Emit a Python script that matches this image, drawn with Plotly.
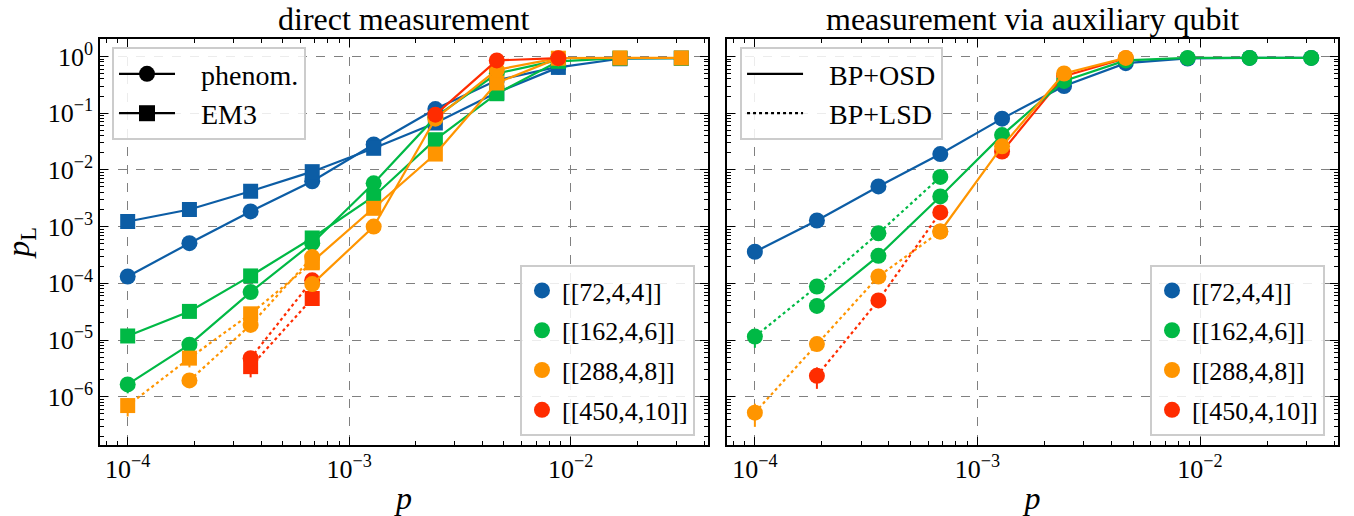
import plotly.graph_objects as go

# physical error rates (shared by both panels)
p_values = [1.00e-4, 1.90e-4, 3.59e-4, 6.81e-4, 1.29e-3, 2.45e-3, 4.64e-3, 8.80e-3, 1.67e-2, 3.16e-2]

code_labels = ["[[72,4,4]]", "[[162,4,6]]", "[[288,4,8]]", "[[450,4,10]]"]
code_colors = ["#0C5DA5", "#00B945", "#FF9500", "#FF2C00"]

# axis tick positions and labels
x_tick_vals = [1e-4, 1e-3, 1e-2]
x_tick_text = ["10<sup>\u22124</sup>", "10<sup>\u22123</sup>", "10<sup>\u22122</sup>"]
y_tick_vals = [1e0, 1e-1, 1e-2, 1e-3, 1e-4, 1e-5, 1e-6]
y_tick_text = ["10<sup>0</sup>", "10<sup>\u22121</sup>", "10<sup>\u22122</sup>", "10<sup>\u22123</sup>",
               "10<sup>\u22124</sup>", "10<sup>\u22125</sup>", "10<sup>\u22126</sup>"]

# ---- direct measurement: logical error rates ----
# (start index into p_values, values)
dm_blue_phen = (0, [1.32e-4, 5.1e-4, 1.85e-3, 6.3e-3, 2.8e-2, 1.18e-1, 3.8e-1, 6.6e-1])
dm_blue_em3 = (0, [1.23e-3, 2.0e-3, 4.2e-3, 9.3e-3, 2.4e-2, 6.7e-2, 2.3e-1, 6.4e-1, 9.1e-1, 9.3e-1])
dm_green_phen = (0, [1.65e-6, 8.3e-6, 7.0e-5, 5.1e-4, 5.8e-3, 8.5e-2, 5.0e-1, 8.6e-1])
dm_green_em3 = (0, [1.18e-5, 3.2e-5, 1.35e-4, 6.3e-4, 3.4e-3, 3.4e-2, 2.2e-1, 8.2e-1, 9.3e-1, 9.3e-1])
dm_orange_phen_lsd = (1, [1.94e-6, 1.85e-5, 2.9e-4])
dm_orange_em3_lsd = (0, [7.0e-7, 4.8e-6, 2.9e-5, 2.3e-4])
dm_orange_phen = (3, [9.7e-5, 1.0e-3, 8.0e-2, 5.8e-1, 9.3e-1])
dm_orange_em3 = (3, [2.4e-4, 2.1e-3, 1.9e-2, 3.4e-1, 9.3e-1, 9.4e-1, 9.4e-1])
dm_red_phen_lsd = (2, [4.8e-6, 1.13e-4])
dm_red_em3_lsd = (2, [3.4e-6, 5.4e-5])
dm_red_phen = (5, [9.4e-2, 8.5e-1, 9.3e-1])

# ---- measurement via auxiliary qubit ----
aq_blue_osd = (0, [3.6e-4, 1.28e-3, 5.1e-3, 1.9e-2, 8.0e-2, 3.0e-1, 7.6e-1, 9.2e-1, 9.4e-1, 9.4e-1])
aq_green_osd = (1, [4.0e-5, 3.05e-4, 3.4e-3, 4.1e-2, 3.7e-1, 8.5e-1, 9.4e-1, 9.4e-1, 9.4e-1])
aq_green_lsd = (0, [1.15e-5, 8.8e-5, 7.6e-4, 7.5e-3])
aq_orange_osd = (3, [8.2e-4, 2.6e-2, 5.0e-1, 9.4e-1])
aq_orange_lsd = (0, [5.25e-7, 8.5e-6, 1.32e-4, 8.2e-4])
aq_red_osd = (4, [2.1e-2, 4.5e-1, 9.3e-1])
aq_red_lsd = (1, [2.34e-6, 5.0e-5, 1.78e-3])

# statistical error bars (symmetric, absolute) on the rarest events
dm_orange_em3_lsd_err = [2.5e-7, 1.5e-6, 0, 0]
dm_green_phen_err = [5e-7, 0, 0, 0, 0, 0, 0, 0]
dm_red_em3_lsd_err = [1.2e-6, 0]
aq_green_lsd_err = [4.2e-6, 0, 0, 0]
aq_orange_lsd_err = [2.3e-7, 0, 0, 0]
aq_red_lsd_err = [9.6e-7, 0, 0]

FONT = "Liberation Serif"
FS_TICK = 26
FS_TITLE = 32
FS_LEG = 28
FS_CODES = 26
MS = 16
LW = 2.2

fig = go.Figure()


def add_series(series, color, symbol, dash, xaxis, yaxis, err=None):
    start, vals = series
    xs = p_values[start:start + len(vals)]
    tr = dict(
        x=xs, y=vals, mode="lines+markers",
        line=dict(color=color, width=LW, dash=dash),
        marker=dict(color=color, size=MS if symbol == "circle" else MS - 1,
                    symbol=symbol, line=dict(width=0)),
        xaxis=xaxis, yaxis=yaxis, showlegend=False, hoverinfo="x+y",
    )
    if err is not None:
        tr["error_y"] = dict(type="data", array=err, arrayminus=err,
                             color=color, thickness=2, width=0, visible=True)
    fig.add_trace(go.Scatter(**tr))


# left panel
add_series(dm_blue_phen, code_colors[0], "circle", "solid", "x", "y")
add_series(dm_blue_em3, code_colors[0], "square", "solid", "x", "y")
add_series(dm_green_phen, code_colors[1], "circle", "solid", "x", "y", dm_green_phen_err)
add_series(dm_green_em3, code_colors[1], "square", "solid", "x", "y")
add_series(dm_red_em3_lsd, code_colors[3], "square", "dot", "x", "y", dm_red_em3_lsd_err)
add_series(dm_red_phen_lsd, code_colors[3], "circle", "dot", "x", "y")
add_series(dm_orange_em3_lsd, code_colors[2], "square", "dot", "x", "y", dm_orange_em3_lsd_err)
add_series(dm_orange_phen_lsd, code_colors[2], "circle", "dot", "x", "y")
add_series(dm_orange_em3, code_colors[2], "square", "solid", "x", "y")
add_series(dm_orange_phen, code_colors[2], "circle", "solid", "x", "y")
add_series(dm_red_phen, code_colors[3], "circle", "solid", "x", "y")

# right panel
add_series(aq_blue_osd, code_colors[0], "circle", "solid", "x2", "y2")
add_series(aq_red_osd, code_colors[3], "circle", "solid", "x2", "y2")
add_series(aq_green_lsd, code_colors[1], "circle", "dot", "x2", "y2", aq_green_lsd_err)
add_series(aq_orange_lsd, code_colors[2], "circle", "dot", "x2", "y2", aq_orange_lsd_err)
add_series(aq_red_lsd, code_colors[3], "circle", "dot", "x2", "y2", aq_red_lsd_err)
add_series(aq_green_osd, code_colors[1], "circle", "solid", "x2", "y2")
add_series(aq_orange_osd, code_colors[2], "circle", "solid", "x2", "y2")

# legend entries (empty traces)
NB = "\u00a0\u00a0\u00a0"
for name, sym in [("phenom.", "circle"), ("EM3", "square")]:
    fig.add_trace(go.Scatter(x=[None], y=[None], mode="lines+markers", name=NB + name,
                             line=dict(color="black", width=LW),
                             marker=dict(color="black", size=MS, symbol=sym),
                             legend="legend", legendgroup=name))
for name, dash in [("BP+OSD", "solid"), ("BP+LSD", "dot")]:
    fig.add_trace(go.Scatter(x=[None], y=[None], mode="lines", name=NB + name,
                             line=dict(color="black", width=LW, dash=dash),
                             xaxis="x2", yaxis="y2",
                             legend="legend3", legendgroup=name))
for leg, ax in [("legend2", ("x", "y")), ("legend4", ("x2", "y2"))]:
    for lab, col in zip(code_labels, code_colors):
        fig.add_trace(go.Scatter(x=[None], y=[None], mode="markers", name=lab,
                                 marker=dict(color=col, size=MS, symbol="circle"),
                                 xaxis=ax[0], yaxis=ax[1],
                                 legend=leg, legendgroup=leg + lab))

xr = [-4.125, -1.38]
yr = [-6.85, 0.307]

# minor ticks at 2..9 times each power of ten
minor_vals = [m * 10.0 ** e for e in range(-8, 1) for m in range(2, 10)]

axis_common = dict(
    type="log", showline=True, linecolor="black", linewidth=1.6, mirror="allticks",
    ticks="inside", ticklen=8, tickwidth=1.4, tickcolor="black",
    showgrid=True, gridcolor="#808080", griddash="dash", gridwidth=1,
    zeroline=False, automargin=False,
    minor=dict(ticks="inside", ticklen=4, tickwidth=1, tickcolor="black",
               tickmode="array", tickvals=minor_vals, showgrid=False),
    tickfont=dict(family=FONT, size=FS_TICK, color="black"),
)

legend_common = dict(
    font=dict(family=FONT, size=FS_LEG, color="black"),
    bgcolor="rgba(255,255,255,0.85)", bordercolor="#cccccc", borderwidth=2,
    traceorder="grouped", tracegroupgap=0, itemwidth=56,
    xanchor="left", yanchor="top",
)
legend_codes = {**legend_common, "xanchor": "right", "yanchor": "top",
                "itemwidth": 30, "tracegroupgap": 3,
                "font": dict(family=FONT, size=FS_CODES, color="black")}

fig.update_layout(
    width=1354, height=516,
    margin=dict(l=100, r=16, t=39, b=71, autoexpand=False),
    paper_bgcolor="white", plot_bgcolor="white",
    font=dict(family=FONT, size=FS_TICK, color="black"),
    xaxis=dict(domain=[0, 0.4911], range=xr, tickvals=x_tick_vals, ticktext=x_tick_text, **axis_common,
               title=dict(text="<i>p</i>", font=dict(family=FONT, size=FS_TITLE), standoff=8)),
    yaxis=dict(domain=[0, 1], range=yr, tickvals=y_tick_vals, ticktext=y_tick_text, **axis_common,
               title=dict(text="<i>p</i><sub>L</sub>", font=dict(family=FONT, size=FS_TITLE), standoff=12)),
    xaxis2=dict(domain=[0.5065, 1], range=xr, tickvals=x_tick_vals, ticktext=x_tick_text,
                anchor="y2", **axis_common,
                title=dict(text="<i>p</i>", font=dict(family=FONT, size=FS_TITLE), standoff=8)),
    yaxis2=dict(domain=[0, 1], range=yr, tickvals=y_tick_vals, anchor="x2",
                showticklabels=False, **axis_common),
    legend=dict(x=0.0097, y=0.98, **legend_common),
    legend2=dict(x=0.4806, y=0.4433, **legend_codes),
    legend3=dict(x=0.517, y=0.98, **legend_common),
    legend4=dict(x=0.9895, y=0.4433, **legend_codes),
    annotations=[
        dict(text="direct measurement", x=0.2456, y=1.0, xref="paper", yref="paper",
             xanchor="center", yanchor="bottom", yshift=0, showarrow=False,
             font=dict(family=FONT, size=FS_TITLE)),
        dict(text="measurement via auxiliary qubit", x=0.7533, y=1.0, xref="paper", yref="paper",
             xanchor="center", yanchor="bottom", yshift=0, showarrow=False,
             font=dict(family=FONT, size=FS_TITLE)),
    ],
)

fig.write_html("out.html")
